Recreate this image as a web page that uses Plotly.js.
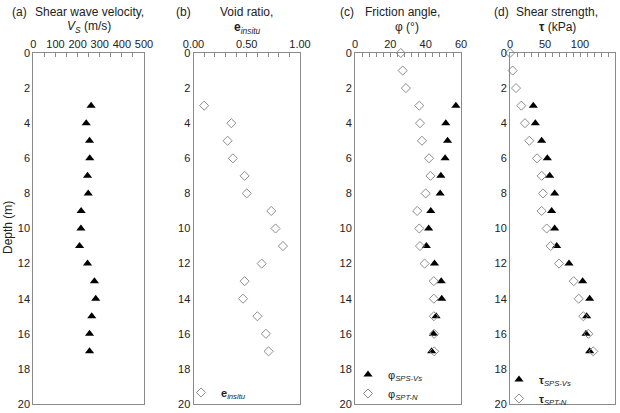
<!DOCTYPE html>
<html>
<head>
<meta charset="utf-8">
<script src="https://cdn.plot.ly/plotly-3.0.1.min.js"></script>
<style>html,body{margin:0;padding:0;background:#fff;}#chart{width:620px;height:413px;}</style>
</head>
<body>
<div id="chart"></div>
<script>
// ---- data ----
const depthSPS = [3, 4, 5, 6, 7, 8, 9, 10, 11, 12, 13, 14, 15, 16, 17];
const depthSPT = [0, 1, 2, 3, 4, 5, 6, 7, 8, 9, 10, 11, 12, 13, 14, 15, 16, 17];
const vs = [261, 239, 254, 255, 245, 248, 216, 215, 209, 245, 276, 282, 264, 254, 254];
const eInsitu = [0.10, 0.355, 0.32, 0.37, 0.48, 0.50, 0.73, 0.77, 0.84, 0.64, 0.48, 0.465, 0.60, 0.68, 0.705];
const phiSPS = [57.1, 51.4, 52.4, 51.0, 48.6, 48.2, 42.9, 41.7, 40.4, 45.0, 48.8, 49.1, 45.9, 44.4, 43.4];
const phiSPT = [25.9, 27.0, 28.8, 36.4, 36.8, 37.9, 41.9, 42.7, 40.0, 35.2, 36.4, 36.8, 39.4, 44.6, 44.6, 44.6, 44.8, 44.8];
const tauSPS = [33.3, 36.2, 45.2, 53.3, 56.7, 63.8, 59.5, 63.8, 66.7, 84.3, 103.8, 113.8, 109.5, 108.6, 113.8];
const tauSPT = [0, 3.8, 8.6, 16.2, 21.4, 27.6, 38.6, 45.2, 47.1, 45.2, 52.4, 58.1, 70.0, 91.0, 98.1, 104.8, 111.9, 119.0];
const depthTicks = [0, 2, 4, 6, 8, 10, 12, 14, 16, 18, 20];

const W = 620, H = 413;
const px = v => v / W, py = v => 1 - v / H;

const tri = {symbol: 'triangle-up', size: 8, color: '#000'};
const dia = {symbol: 'diamond-open', size: 7, color: '#8c8c8c', line: {width: 1, color: '#8c8c8c'}};

const traces = [
  {x: vs, y: depthSPS, xaxis: 'x', yaxis: 'y', mode: 'markers', marker: tri, showlegend: false, cliponaxis: false},
  {x: eInsitu, y: depthSPS, xaxis: 'x2', yaxis: 'y2', mode: 'markers', marker: dia, name: '<b>e</b><sub><i>insitu</i></sub>', legend: 'legend', cliponaxis: false},
  {x: phiSPS, y: depthSPS, xaxis: 'x3', yaxis: 'y3', mode: 'markers', marker: tri, name: 'φ<sub><i>SPS-Vs</i></sub>', legend: 'legend2', cliponaxis: false},
  {x: phiSPT, y: depthSPT, xaxis: 'x3', yaxis: 'y3', mode: 'markers', marker: dia, name: 'φ<sub><i>SPT-N</i></sub>', legend: 'legend2', cliponaxis: false},
  {x: tauSPS, y: depthSPS, xaxis: 'x4', yaxis: 'y4', mode: 'markers', marker: tri, name: '<b>τ</b><sub><i>SPS-Vs</i></sub>', legend: 'legend3', cliponaxis: false},
  {x: tauSPT, y: depthSPT, xaxis: 'x4', yaxis: 'y4', mode: 'markers', marker: dia, name: '<b>τ</b><sub><i>SPT-N</i></sub>', legend: 'legend3', cliponaxis: false}
];

const lineCol = '#8a8a8a';
const tickFont = {family: 'Liberation Sans, Arial, sans-serif', size: 11, color: '#222'};
function xax(dom, range, dtick, minor, fmt, anchor) {
  return {
    domain: dom, range: range, anchor: anchor, side: 'top',
    tickmode: 'linear', tick0: 0, dtick: dtick, tickformat: fmt,
    ticks: 'inside', ticklen: 4, tickcolor: lineCol, tickwidth: 1,
    minor: {dtick: minor, tick0: 0, ticks: 'inside', ticklen: 4, tickcolor: lineCol, tickwidth: 1, showgrid: false},
    showline: true, mirror: true, linecolor: lineCol, linewidth: 1,
    showgrid: false, zeroline: false, tickfont: tickFont, fixedrange: true
  };
}
function yax(anchor) {
  return {
    domain: [py(404), py(53)], range: [20, 0], anchor: anchor,
    tickmode: 'array', tickvals: depthTicks, ticktext: depthTicks.map(String),
    ticks: '', showline: true, mirror: true, linecolor: lineCol, linewidth: 1,
    showgrid: false, zeroline: false, tickfont: tickFont, fixedrange: true
  };
}

const tf = {family: 'Liberation Sans, Arial, sans-serif', size: 12, color: '#222'};
function ann(text, x, y) {
  return {text: text, x: px(x), y: py(y), xref: 'paper', yref: 'paper', showarrow: false, xanchor: 'center', yanchor: 'middle', font: tf};
}
const legFont = {family: 'Liberation Sans, Arial, sans-serif', size: 11, color: '#222'};

const layout = {
  width: W, height: H, paper_bgcolor: '#fff', plot_bgcolor: '#fff',
  margin: {l: 0, r: 0, t: 0, b: 0},
  xaxis: xax([px(33.3), px(144)], [0, 500], 100, 50, '', 'y'),
  xaxis2: xax([px(193.5), px(300)], [0, 1], 0.5, 0.1, '.2f', 'y2'),
  xaxis3: xax([px(355), px(461)], [0, 60], 20, 4, '', 'y3'),
  xaxis4: xax([px(510), px(615)], [0, 150], 50, 10, '', 'y4'),
  yaxis: yax('x'), yaxis2: yax('x2'), yaxis3: yax('x3'), yaxis4: yax('x4'),
  legend: {x: px(181), y: py(378), xanchor: 'left', yanchor: 'top', bgcolor: 'rgba(0,0,0,0)', font: legFont, tracegroupgap: 0},
  legend2: {x: px(348), y: py(360), xanchor: 'left', yanchor: 'top', bgcolor: 'rgba(0,0,0,0)', font: legFont, tracegroupgap: 0},
  legend3: {x: px(499), y: py(365), xanchor: 'left', yanchor: 'top', bgcolor: 'rgba(0,0,0,0)', font: legFont, tracegroupgap: 0},
  annotations: [
    ann('(a)', 19, 12), ann('Shear wave velocity,', 89, 12), ann('<i>V</i><sub><i>S</i></sub> (m/s)', 89, 27),
    ann('(b)', 183, 12), ann('Void ratio,', 246, 12), ann('<b>e</b><sub><i>insitu</i></sub>', 247, 28),
    ann('(c)', 347, 12), ann('Friction angle,', 402, 12), ann('φ (°)', 407, 27),
    ann('(d)', 501, 12), ann('Shear strength,', 557, 12), ann('<b>τ</b> (kPa)', 557, 27),
    Object.assign(ann('Depth (m)', 8, 228), {textangle: -90})
  ]
};

Plotly.newPlot('chart', traces, layout, {displayModeBar: false, staticPlot: true});
</script>
</body>
</html>
